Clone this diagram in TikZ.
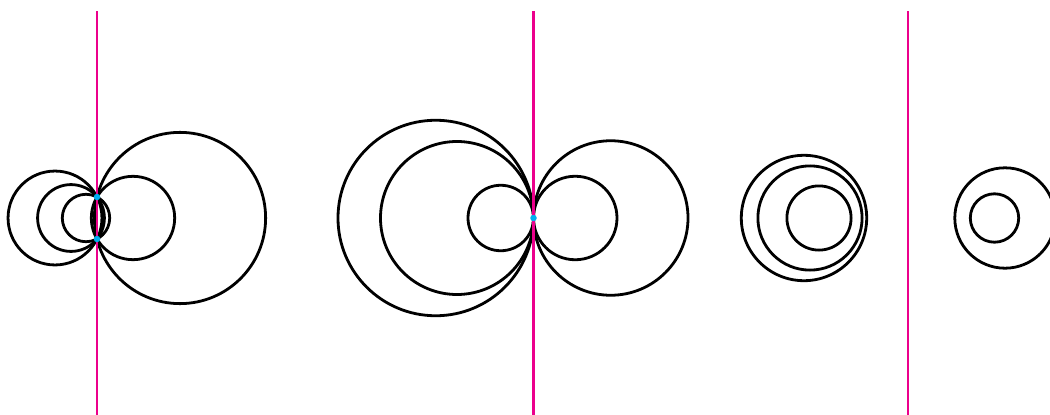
\documentclass[tikz,border=0pt]{standalone}
\usetikzlibrary{calc}
\definecolor{axismag}{RGB}{236,0,140}
\definecolor{ptcyan}{RGB}{0,174,239}
\begin{document}
\begin{tikzpicture}[x=1pt,y=-1pt,
  circ/.style={draw=black,line width=2.8pt},
  axisline/.style={draw=axismag,line width=2.8pt},
  pt/.style={circle,fill=ptcyan,inner sep=0pt,minimum size=6.5pt}]
\useasboundingbox (0,0) rectangle (1050,415);
\clip (0,0) rectangle (1050,415);
% panel 1: intersecting family
\draw[circ] (55,218) circle[radius=46.96pt];
\draw[circ] (71,218) circle[radius=33.42pt];
\draw[circ] (86,218) circle[radius=23.71pt];
\draw[circ] (133,218) circle[radius=41.68pt];
\draw[circ] (180,218) circle[radius=85.62pt];
% panel 2: tangent family
\draw[circ] (435.75,218) circle[radius=97.75pt];
\draw[circ] (457,218) circle[radius=76.5pt];
\draw[circ] (500.75,218) circle[radius=32.75pt];
\draw[circ] (575.25,218) circle[radius=41.75pt];
\draw[circ] (610.75,218) circle[radius=77.25pt];
% panel 3/4: non-intersecting family
\draw[circ] (804,218) circle[radius=62.7pt];
\draw[circ] (810,218) circle[radius=52.1pt];
\draw[circ] (819,218) circle[radius=32.1pt];
\draw[circ] (1005,218) circle[radius=50.2pt];
\draw[circ] (994.5,218) circle[radius=24.2pt];
% radical axes
\coordinate (a1t) at (97,11);
\coordinate (a1b) at (97,415);
\coordinate (a2t) at (533.5,11);
\coordinate (a2b) at (533.5,415);
\coordinate (a3t) at (908,11);
\coordinate (a3b) at (908,415);
\draw[axisline] (a1t) -- (a1b);
\draw[axisline] (a2t) -- (a2b);
\draw[axisline] (a3t) -- (a3b);
% base points
\node[pt] (p1) at (97,197) {};
\node[pt] (p2) at (97,239) {};
\node[pt] (p3) at (533.5,218) {};
\end{tikzpicture}
\end{document}
